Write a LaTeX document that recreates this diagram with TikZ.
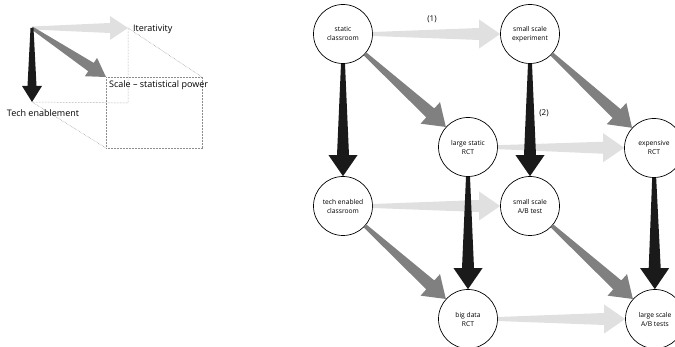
\documentclass[tikz,border=0pt]{standalone}
\usepackage{fontspec}
\setmainfont{Open Sans}
\usetikzlibrary{calc}
\definecolor{lightg}{HTML}{E0E0E0}
\definecolor{midg}{HTML}{808080}
\definecolor{darkg}{HTML}{1A1A1A}
\definecolor{dotg}{HTML}{8C8C8C}
% colour, from, to, half start width, half end width, head length, half head width
\newcommand\taparrow[7]{%
  \path ($(#3)!#6!(#2)$) coordinate (tpP);
  \fill[#1] ($(#2)!#4!90:(#3)$) -- ($(tpP)!#5!90:(#3)$) -- ($(tpP)!#7!90:(#3)$) -- (#3)
    -- ($(tpP)!#7!-90:(#3)$) -- ($(tpP)!#5!-90:(#3)$) -- ($(#2)!#4!-90:(#3)$) -- cycle;}
% arrow between two circle nodes
\newcommand\nodearrow[3]{%
  \path (#2) -- (#3) coordinate[pos=0] (tpS) coordinate[pos=1] (tpE);
  \taparrow{#1}{tpS}{tpE}{2pt}{6pt}{21pt}{14.5pt}}
\begin{document}
\begin{tikzpicture}[x=1pt,y=-1pt,
  circ/.style={circle,draw,line width=0.7pt,minimum size=59pt,inner sep=0pt,align=center,
    font=\fontsize{6.7}{9}\selectfont},
  cube/.style={dotg,densely dotted,line width=0.5pt},
  lab/.style={font=\fontsize{9}{11}\selectfont,inner sep=0pt}]
\useasboundingbox (0,0) rectangle (675,347);
\clip (0,0) rectangle (675,347);

% ---------- left: cube of axes ----------
\coordinate (O) at (32,28);
\coordinate (X) at (128,28);
\coordinate (Y) at (32,102);
\coordinate (Z) at (106,77);
\coordinate (XY) at (128,103);
\coordinate (XZ) at (202,77);
\coordinate (YZ) at (106,148);
\coordinate (XYZ) at (202,148);
\draw[cube] (X) -- (XY) -- (Y);
\draw[cube] (X) -- (XZ);
\draw[cube] (Z) -- (XZ) -- (XYZ) -- (YZ) -- cycle;
\draw[cube] (Y) -- (YZ);

\taparrow{lightg}{O}{X}{1.5pt}{5pt}{18pt}{12pt}
\taparrow{midg}{O}{Z}{1.5pt}{5pt}{18pt}{11pt}
\taparrow{darkg}{O}{Y}{1.5pt}{4.5pt}{16pt}{10pt}

\node[lab,anchor=west] (it) at (133,29) {Iterativity};
\node[lab,anchor=west] (sp) at (109,85) {Scale -- statistical power};
\node[lab] (te) at (43,113) {Tech enablement};

% ---------- right: cube of circles ----------
\node[circ] (sc) at (343,34) {static\\classroom};
\node[circ] (se) at (530,34) {small scale\\experiment};
\node[circ] (ls) at (468,147) {large static\\RCT};
\node[circ] (ex) at (654,148) {expensive\\RCT};
\node[circ] (tc) at (343,206) {tech enabled\\classroom};
\node[circ] (ab) at (530,206) {small scale\\A/B test};
\node[circ] (bd) at (468,319) {big data\\RCT};
\node[circ] (lt) at (655,319) {large scale\\A/B tests};

\nodearrow{lightg}{sc}{se}
\nodearrow{lightg}{ls}{ex}
\nodearrow{lightg}{tc}{ab}
\nodearrow{lightg}{bd}{lt}

\nodearrow{midg}{sc}{ls}
\nodearrow{midg}{se}{ex}
\nodearrow{midg}{tc}{bd}
\nodearrow{midg}{ab}{lt}

\nodearrow{darkg}{sc}{tc}
\nodearrow{darkg}{se}{ab}
\nodearrow{darkg}{ls}{bd}
\nodearrow{darkg}{ex}{lt}

\node[font=\fontsize{8}{9}\selectfont] (n1) at (432,19) {(1)};
\node[font=\fontsize{8}{9}\selectfont] (n2) at (544,113) {(2)};
\end{tikzpicture}
\end{document}
